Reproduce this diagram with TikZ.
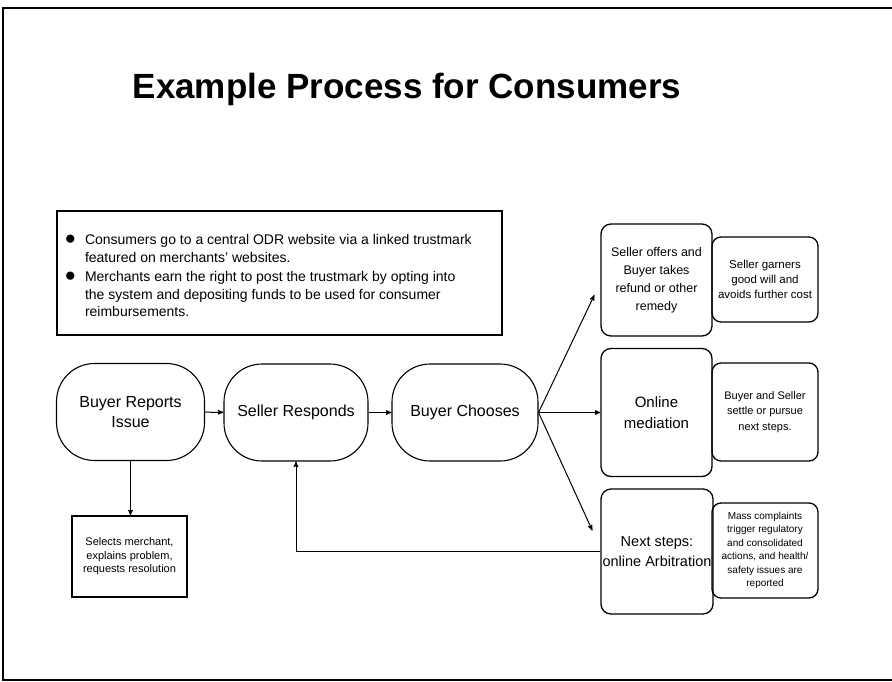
\documentclass[tikz,border=0pt]{standalone}
\usepackage{fontspec}
\setmainfont{Liberation Sans}
\usetikzlibrary{arrows,positioning,calc}

\begin{document}
\begin{tikzpicture}[
  x=1pt, y=-1pt,
  >=stealth',
  line width=1.1pt,
  oval/.style={draw=black, rounded corners=38pt, minimum width=148pt, minimum height=97pt, inner sep=0pt, align=center, font=\fontsize{16}{20}\selectfont},
  choice/.style={draw=black, rounded corners=10pt, minimum width=111pt, inner sep=0pt, align=center, line width=1.3pt},
  result/.style={draw=black, rounded corners=9pt, minimum width=106pt, inner sep=0pt, align=center, line width=1.3pt},
  flow/.style={->, line width=1pt}]

\useasboundingbox (0,0) rectangle (892,681);
\draw[line width=1.2pt] (892,8) -- (3,8) -- (3,680) -- (892,680);

\node[anchor=base, font=\fontsize{35}{40}\selectfont\bfseries] (title) at (407,98.5) {Example Process for Consumers};

% facts box
\node[draw=black, line width=1.3pt, minimum width=445pt, minimum height=124pt, inner sep=0pt] (facts) at (279.5,273) {};
\node[anchor=north west, inner sep=0pt, align=left, font=\fontsize{14}{17.5}\selectfont] (factstext) at (64,232) {%
  \begin{tabular}{@{}l@{\hspace{9pt}}l@{}}
  {\fontsize{19}{17}\selectfont ●} & Consumers go to a central ODR website via a linked trustmark\\
    & featured on merchants' websites.\\[2pt]
  {\fontsize{19}{17}\selectfont ●} & Merchants earn the right to post the trustmark by opting into\\
    & the system and depositing funds to be used for consumer\\
    & reimbursements.
  \end{tabular}};

% main flow
\node[oval] (report) at (130.5,412) {Buyer Reports\\Issue};
\node[oval, minimum width=144pt] (respond) at (296,412.5) {Seller Responds};
\node[oval, minimum width=146pt] (choose) at (465,412.5) {Buyer Chooses};

\node[draw=black, line width=1.3pt, minimum width=115pt, minimum height=81pt, inner sep=0pt, align=center, font=\fontsize{11}{13.5}\selectfont] (select) at (129.5,556.5) {Selects merchant,\\explains problem,\\requests resolution};

% outcomes
\node[choice, minimum height=112pt, font=\fontsize{12.5}{18}\selectfont] (offer) at (656.5,280) {Seller offers and\\Buyer takes\\refund or other\\remedy};
\node[result, minimum height=85pt, font=\fontsize{11.5}{15}\selectfont] (goodwill) at (765,279.5) {Seller garners\\good will and\\avoids further cost};
\node[choice, minimum height=128pt, font=\fontsize{15}{21}\selectfont] (mediate) at (656.5,412.5) {Online\\mediation};
\node[result, minimum height=98pt, font=\fontsize{11}{15.5}\selectfont] (settle) at (765,412) {Buyer and Seller\\settle or pursue\\next steps.};
\node[choice, minimum width=112pt, minimum height=125pt, font=\fontsize{14.5}{20}\selectfont] (arbitrate) at (657,551.5) {Next steps:\\online Arbitration};
\node[result, minimum height=95pt, font=\fontsize{10}{13.5}\selectfont] (complain) at (765,550.5) {Mass complaints\\trigger regulatory\\and consolidated\\actions, and health/\\safety issues are\\reported};

\draw[flow] (report) -- (respond);
\draw[flow] (respond) -- (choose);
\draw[flow] (report.south) -- (report.south |- select.north);

\draw[flow] (choose.east) -- ([xshift=-6pt, yshift=-15pt]offer.west);
\draw[flow] (choose.east) -- (mediate.west);
\draw[flow] (choose.east) -- ([xshift=-8pt, yshift=21pt]arbitrate.west);

\draw[flow] (arbitrate.west) -| (respond.south);

\end{tikzpicture}
\end{document}
